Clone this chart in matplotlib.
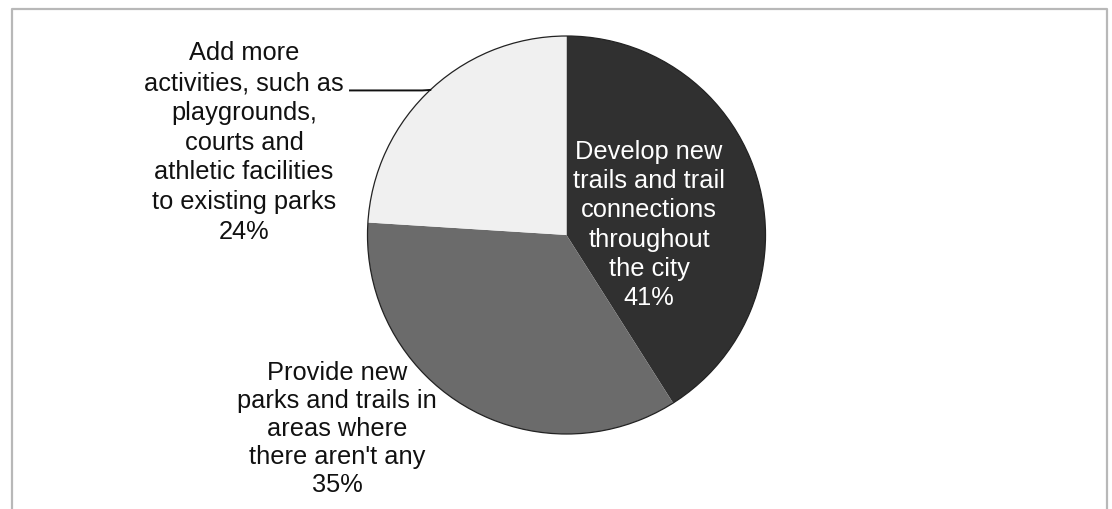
import numpy as np
import matplotlib
matplotlib.use("Agg")
import matplotlib.pyplot as plt
from matplotlib.patches import Arc

# Survey answers, in drawing order (clockwise from 12 o'clock)
labels = [
    "Develop new\ntrails and trail\nconnections\nthroughout\nthe city",
    "Provide new\nparks and trails in\nareas where\nthere aren't any",
    "Add more\nactivities, such as\nplaygrounds,\ncourts and\nathletic facilities\nto existing parks",
]
shares = [41, 35, 24]
colors = ["#303030", "#6b6b6b", "#f0f0f0"]
text_colors = ["white", "#111111", "#111111"]

W, H = 1112, 510
fig = plt.figure(figsize=(W / 100, H / 100), dpi=100)
ax = fig.add_axes([0, 0, 1, 1])

font = "Liberation Sans"
fs = 18.3

cx, cy, r = 566.5, H - 236, 199
ax.pie(shares, colors=colors, startangle=90, counterclock=False,
       center=(cx, cy), radius=r, frame=True,
       wedgeprops=dict(linewidth=0))
ax.set_xlim(0, W)
ax.set_ylim(0, H)
ax.set_aspect("equal")
ax.axis("off")

# chart frame
ax.plot([12, 12, 1107, 1107], [-5, H - 10, H - 10, -5], color="#b8b8b8", lw=1.6,
        solid_capstyle="butt")

# thin outline around the pie
ax.add_patch(Arc((cx, cy), 2 * r, 2 * r, theta1=0, theta2=360, color="#222222", lw=0.9))


def label(i, x, y, spacing):
    ax.text(x, y, f"{labels[i]}\n{shares[i]}%", ha="center", va="center",
            fontsize=fs, family=font, color=text_colors[i], linespacing=spacing)


label(0, 649, H - 225, 1.27)
label(1, 337, H - 429, 1.22)
label(2, 244, H - 142.5, 1.30)

# leader line from the small slice's label to the middle of its arc
theta = np.deg2rad(90 + 360 * shares[2] / 200)
ex, ey = cx + r * np.cos(theta), cy + r * np.sin(theta)
ax.plot([350, ex - 8, ex], [ey - 0.5, ey - 0.5, ey], color="#111111", lw=1.4)

fig.savefig("out.png", dpi=100, facecolor="white")
